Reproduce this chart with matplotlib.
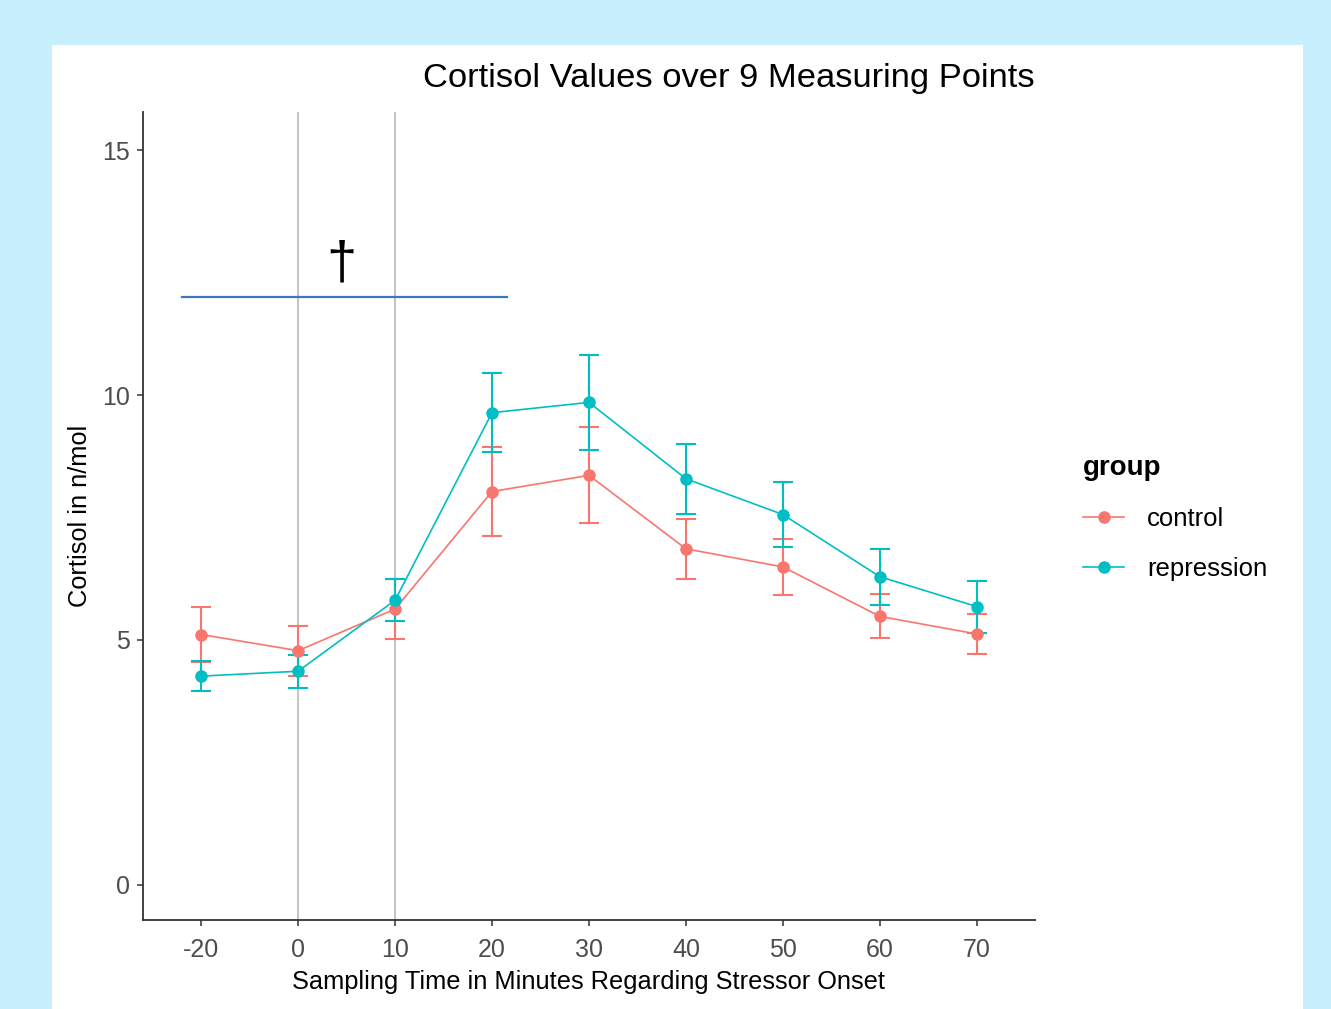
import matplotlib
matplotlib.use("Agg")
import matplotlib.pyplot as plt
from matplotlib.patches import Rectangle
from matplotlib.lines import Line2D

plt.rcParams['font.family'] = ['Liberation Sans', 'DejaVu Sans']

# sampling times (shown as discrete categories)
times = ['-20', '0', '10', '20', '30', '40', '50', '60', '70']
# group means and standard errors
control_mean = [5.11, 4.78, 5.63, 8.03, 8.36, 6.86, 6.49, 5.48, 5.12]
control_err = [0.56, 0.51, 0.61, 0.91, 0.98, 0.61, 0.57, 0.45, 0.41]
repression_mean = [4.26, 4.36, 5.81, 9.64, 9.85, 8.29, 7.56, 6.29, 5.68]
repression_err = [0.30, 0.34, 0.43, 0.80, 0.97, 0.71, 0.66, 0.57, 0.53]

groups = ['control', 'repression']
colors = ['#F8766D', '#00BFC4']

fig = plt.figure(figsize=(13.31, 10.09), dpi=100)
fig.patch.set_facecolor('#c7effd')
fig.patches.append(Rectangle((52/1331, 0), (1303-52)/1331, 1-45/1009,
                             transform=fig.transFigure, facecolor='white',
                             edgecolor='none', zorder=-10))

ax = fig.add_axes([143/1331, 1-920/1009, (1035-143)/1331, (920-112)/1009])
ax.set_zorder(2)
ax.set_facecolor('white')
xpos = list(range(1, len(times) + 1))

# vertical reference lines at 0 and 10 min
ax.axvline(2, color='#b3b3b3', lw=1.1, zorder=1)
ax.axvline(3, color='#b3b3b3', lw=1.1, zorder=1)

# significance marker
ax.plot([0.8, 4.15], [12, 12], color='#3a78bd', lw=1.6, zorder=2)
ax.text(2.45, 12.15, '\u2020', fontsize=39, ha='center', va='bottom', color='black')

for name, m, e, c in zip(groups, [control_mean, repression_mean],
                         [control_err, repression_err], colors):
    ax.errorbar(xpos, m, yerr=e, color=c, lw=1.2, elinewidth=1.5,
                capsize=7.5, capthick=1.5, marker='o', markersize=8,
                label=name, zorder=3)

ax.set_xlim(0.4, 9.6)
ax.set_ylim(-0.72, 15.78)
ax.set_xticks(xpos)
ax.set_xticklabels(times)
ax.set_yticks([0, 5, 10, 15])
ax.tick_params(axis='both', labelsize=18, labelcolor='#4d4d4d',
               color='#333333', length=4.5, width=1.1)
ax.tick_params(axis='x', pad=8.5)
ax.tick_params(axis='y', pad=5)
for s in ['top', 'right']:
    ax.spines[s].set_visible(False)
for s in ['left', 'bottom']:
    ax.spines[s].set_color('#333333')
    ax.spines[s].set_linewidth(1.3)

ax.set_xlabel('Sampling Time in Minutes Regarding Stressor Onset',
              fontsize=18.3, labelpad=6)
ax.set_ylabel('Cortisol in n/mol', fontsize=18.3, labelpad=7)

fig.text(729/1331, 1-79/1009, 'Cortisol Values over 9 Measuring Points',
         fontsize=24.8, ha='center', va='center')

handles = [Line2D([0], [0], color=c, lw=1.2, marker='o', markersize=8)
           for c in colors]
leg = fig.legend(handles, groups, title='group', loc='upper left',
                 bbox_to_anchor=(1060/1331, 1-432/1009), frameon=False,
                 fontsize=18.5, title_fontsize=20, handlelength=1.6,
                 handletextpad=0.9, labelspacing=1.0, alignment='left')
leg.get_title().set_fontweight('bold')

fig.savefig('out.png', dpi=100, facecolor=fig.get_facecolor())
